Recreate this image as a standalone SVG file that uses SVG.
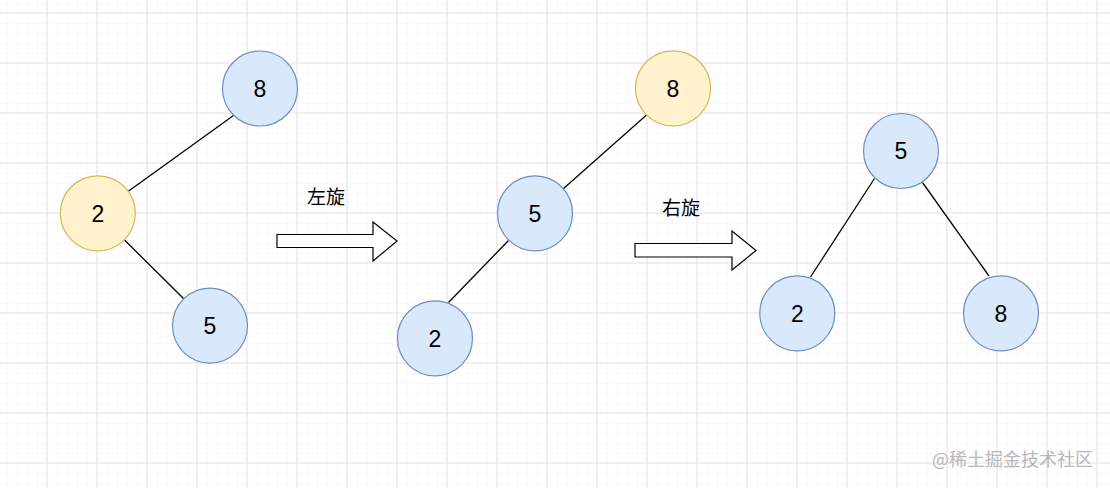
<svg xmlns="http://www.w3.org/2000/svg" width="1110" height="488" viewBox="0 0 1110 488">
  <defs>
    <pattern id="minor" x="7" y="3" width="10" height="10" patternUnits="userSpaceOnUse">
      <path d="M0 0.5H10M0.5 0V10" fill="none" stroke="#fafafa" stroke-width="1"/>
    </pattern>
    <pattern id="major" x="46.5" y="12.5" width="50" height="50" patternUnits="userSpaceOnUse">
      <path d="M0 0.5H50M0.5 0V50" fill="none" stroke="#e3e3e3" stroke-width="1"/>
    </pattern>
  </defs>
  <style>
    .blue { fill: #dae8fc; stroke: #6c8ebf; stroke-width: 1.2; }
    .yellow { fill: #fff2cc; stroke: #d6b656; stroke-width: 1.2; }
    .num { font-family: "Liberation Sans", Arial, sans-serif; font-size: 23px; fill: #000; text-anchor: middle; }
    .label { font-family: "Noto Sans CJK SC", sans-serif; font-size: 19px; fill: #000; text-anchor: middle; }
    .edge { stroke: #000; stroke-width: 1.3; fill: none; }
    .blockarrow { fill: #fff; stroke: #000; stroke-width: 1.2; stroke-linejoin: miter; }
    .wm { font-family: "Noto Sans CJK SC", sans-serif; font-size: 18px; fill: #b8b8b8; }
  </style>
  <rect width="1110" height="488" fill="#fff"/>
  <rect width="1110" height="488" fill="url(#minor)"/>
  <rect width="1110" height="488" fill="url(#major)"/>

  <g id="connectors">
    <line class="edge" x1="128" y1="191.5" x2="233.5" y2="115.5"/>
    <line class="edge" x1="124.5" y1="240" x2="184" y2="299"/>
    <line class="edge" x1="563" y1="189" x2="646.5" y2="115"/>
    <line class="edge" x1="448.5" y1="302.5" x2="508.5" y2="240.5"/>
    <line class="edge" x1="874.5" y1="178.5" x2="810.5" y2="277"/>
    <line class="edge" x1="922.5" y1="182.5" x2="989" y2="276"/>
    <polygon id="arrow-left-rotate" class="blockarrow" points="277,234.5 373,234.5 373,222 397,241 373,261 373,247.5 277,247.5"/>
    <polygon id="arrow-right-rotate" class="blockarrow" points="635,243.5 732,243.5 732,231 756,250.5 732,270 732,257 635,257"/>
  </g>

  <g id="label-left">
    <text class="label" x="326" y="204">左旋</text>
  </g>
  <g id="label-right">
    <text class="label" x="681" y="215">右旋</text>
  </g>

  <g id="t1-node-8">
    <circle class="blue" cx="260" cy="88.5" r="37.5"/>
    <text class="num" x="260" y="96.5">8</text>
  </g>
  <g id="t1-node-2">
    <circle class="yellow" cx="97.8" cy="213.3" r="37.5"/>
    <text class="num" x="97.8" y="221.5">2</text>
  </g>
  <g id="t1-node-5">
    <circle class="blue" cx="210" cy="325.6" r="37.5"/>
    <text class="num" x="210" y="333.8">5</text>
  </g>

  <g id="t2-node-8">
    <circle class="yellow" cx="673" cy="88.3" r="37.5"/>
    <text class="num" x="673" y="96.5">8</text>
  </g>
  <g id="t2-node-5">
    <circle class="blue" cx="535" cy="213.3" r="37.5"/>
    <text class="num" x="535" y="221.5">5</text>
  </g>
  <g id="t2-node-2">
    <circle class="blue" cx="435" cy="338.3" r="37.5"/>
    <text class="num" x="435" y="346.5">2</text>
  </g>

  <g id="t3-node-5">
    <circle class="blue" cx="901" cy="151" r="37.5"/>
    <text class="num" x="901" y="159.2">5</text>
  </g>
  <g id="t3-node-2">
    <circle class="blue" cx="797.3" cy="313.3" r="37.5"/>
    <text class="num" x="797.3" y="321.5">2</text>
  </g>
  <g id="t3-node-8">
    <circle class="blue" cx="1001" cy="313.3" r="37.5"/>
    <text class="num" x="1001" y="321.5">8</text>
  </g>

  <text class="wm" x="932" y="466">@稀土掘金技术社区</text>
</svg>
